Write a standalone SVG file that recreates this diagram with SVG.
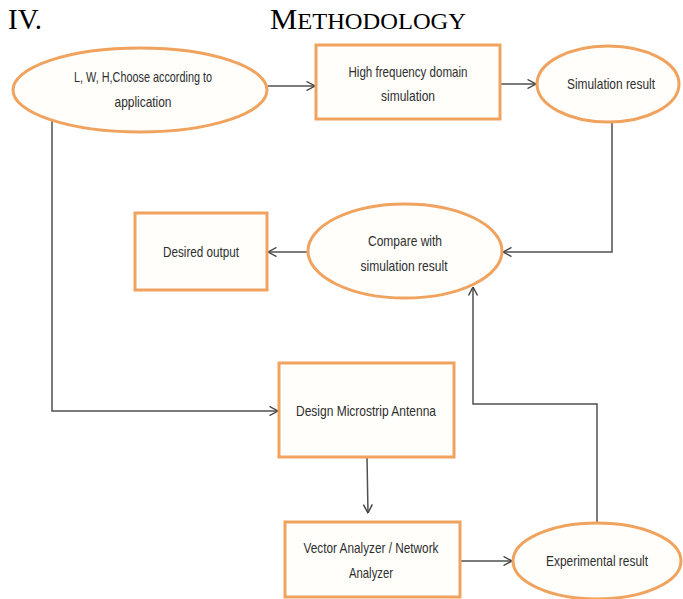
<svg xmlns="http://www.w3.org/2000/svg" width="683" height="599" viewBox="0 0 683 599">
  <style>
    .node { fill: #fffefb; stroke: #f0a35e; stroke-width: 3; }
    .label { font-family: "Liberation Sans", Arial, sans-serif; font-size: 15px; fill: #2e2e2e; text-anchor: middle; }
    .wire { fill: none; stroke: #505050; stroke-width: 1.5; }
    .title { font-family: "Liberation Serif", "Times New Roman", serif; fill: #000; }
  </style>
  <defs>
    <marker id="chev" viewBox="0 0 10 10" refX="9.5" refY="5" markerWidth="10" markerHeight="10" markerUnits="userSpaceOnUse" orient="auto">
      <path d="M1,0.5 L9.5,5 L1,9.5" fill="none" stroke="#404040" stroke-width="1.4"/>
    </marker>
  </defs>

  <rect width="683" height="599" fill="#ffffff"/>

  <!-- heading -->
  <text class="title" x="8" y="29" font-size="29">IV.</text>
  <text class="title" x="270" y="29" font-size="30" textLength="196" lengthAdjust="spacingAndGlyphs">M<tspan font-size="24">ETHODOLOGY</tspan></text>

  <!-- connectors -->
  <g id="connectors">
    <path class="wire" d="M268,86 H315" marker-end="url(#chev)"/>
    <path class="wire" d="M500,84 H536" marker-end="url(#chev)"/>
    <path class="wire" d="M612,121 V252 H503" marker-end="url(#chev)"/>
    <path class="wire" d="M308,252 H268" marker-end="url(#chev)"/>
    <path class="wire" d="M52,120 V411 H278" marker-end="url(#chev)"/>
    <path class="wire" d="M367,457 L368,513" marker-end="url(#chev)"/>
    <path class="wire" d="M460,561 H512" marker-end="url(#chev)"/>
    <path class="wire" d="M597,523 V404 H473 V287" marker-end="url(#chev)"/>
  </g>

  <g id="choose-lwh">
    <ellipse class="node" cx="140" cy="90" rx="127" ry="42"/>
    <text class="label" x="143" y="82" textLength="138" lengthAdjust="spacingAndGlyphs">L, W, H,Choose according to</text>
    <text class="label" x="143" y="107" textLength="57" lengthAdjust="spacingAndGlyphs">application</text>
  </g>

  <g id="hf-simulation">
    <rect class="node" x="316" y="45" width="184" height="74"/>
    <text class="label" x="408" y="77" textLength="119" lengthAdjust="spacingAndGlyphs">High frequency domain</text>
    <text class="label" x="408" y="101" textLength="54" lengthAdjust="spacingAndGlyphs">simulation</text>
  </g>

  <g id="simulation-result">
    <ellipse class="node" cx="608" cy="84" rx="71" ry="38"/>
    <text class="label" x="611" y="89" textLength="88" lengthAdjust="spacingAndGlyphs">Simulation result</text>
  </g>

  <g id="compare">
    <ellipse class="node" cx="405" cy="251" rx="97" ry="47"/>
    <text class="label" x="405" y="246" textLength="74" lengthAdjust="spacingAndGlyphs">Compare with</text>
    <text class="label" x="404" y="271" textLength="87" lengthAdjust="spacingAndGlyphs">simulation result</text>
  </g>

  <g id="desired-output">
    <rect class="node" x="135" y="213" width="132" height="77"/>
    <text class="label" x="201" y="257" textLength="76" lengthAdjust="spacingAndGlyphs">Desired output</text>
  </g>

  <g id="design-antenna">
    <rect class="node" x="279" y="363" width="175" height="94"/>
    <text class="label" x="366" y="416" textLength="140" lengthAdjust="spacingAndGlyphs">Design  Microstrip Antenna</text>
  </g>

  <g id="analyzer">
    <rect class="node" x="285" y="522" width="175" height="75"/>
    <text class="label" x="371" y="553" textLength="135" lengthAdjust="spacingAndGlyphs">Vector Analyzer / Network</text>
    <text class="label" x="371" y="578" textLength="44" lengthAdjust="spacingAndGlyphs">Analyzer</text>
  </g>

  <g id="experimental-result">
    <ellipse class="node" cx="597" cy="561" rx="84" ry="38"/>
    <text class="label" x="597" y="566" textLength="102" lengthAdjust="spacingAndGlyphs">Experimental result</text>
  </g>
</svg>
